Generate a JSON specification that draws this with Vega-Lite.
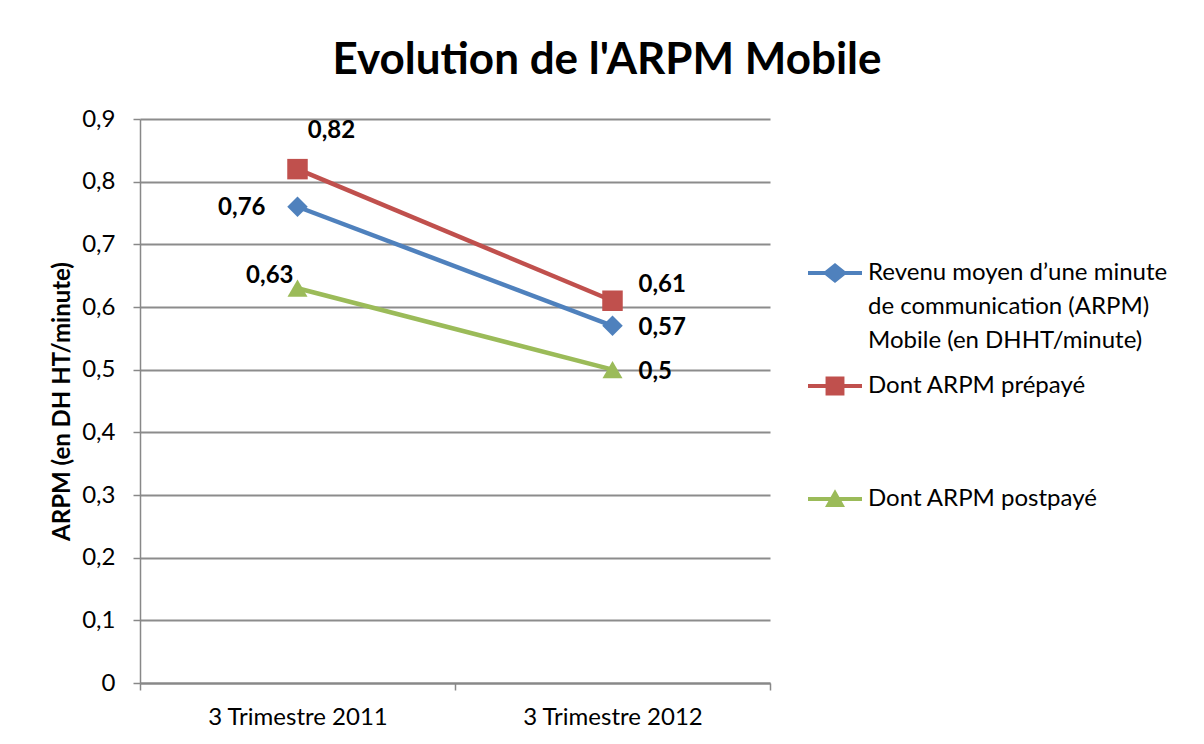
{
  "$schema": "https://vega.github.io/schema/vega-lite/v6.json",
  "width": 630,
  "height": 564,
  "autosize": {"type": "none"},
  "padding": {"left": 140, "top": 119, "right": 434, "bottom": 61},
  "background": "white",
  "title": {
    "text": "Evolution de l'ARPM Mobile",
    "font": "Lato",
    "fontSize": 44,
    "fontWeight": "bold",
    "color": "black",
    "anchor": "middle",
    "dx": 152,
    "offset": 24
  },
  "data": {
    "values": [
      {"period": "3 Trimestre 2011", "series": "Revenu moyen d’une minute de communication (ARPM) Mobile (en DHHT/minute)", "value": 0.76},
      {"period": "3 Trimestre 2012", "series": "Revenu moyen d’une minute de communication (ARPM) Mobile (en DHHT/minute)", "value": 0.57},
      {"period": "3 Trimestre 2011", "series": "Dont ARPM prépayé", "value": 0.82},
      {"period": "3 Trimestre 2012", "series": "Dont ARPM prépayé", "value": 0.61},
      {"period": "3 Trimestre 2011", "series": "Dont ARPM postpayé", "value": 0.63},
      {"period": "3 Trimestre 2012", "series": "Dont ARPM postpayé", "value": 0.5}
    ]
  },
  "encoding": {
    "x": {
      "field": "period",
      "type": "nominal",
      "scale": {"type": "band", "paddingInner": 0, "paddingOuter": 0},
      "title": null,
      "axis": {
        "labelAngle": 0,
        "labelFontSize": 24,
        "labelColor": "black",
        "labelPadding": 15,
        "labelLimit": 300,
        "tickSize": 7,
        "tickBand": "extent",
        "tickColor": "#888888",
        "tickWidth": 1.5,
        "domainColor": "#888888",
        "domainWidth": 2,
        "grid": false
      }
    },
    "y": {
      "field": "value",
      "type": "quantitative",
      "scale": {"domain": [0, 0.9], "nice": false},
      "title": "ARPM (en DH HT/minute)",
      "axis": {
        "values": [0, 0.1, 0.2, 0.3, 0.4, 0.5, 0.6, 0.7, 0.8, 0.9],
        "format": "~g",
        "labelFontSize": 24,
        "labelColor": "black",
        "labelPadding": 18,
        "tickSize": 7,
        "tickColor": "#888888",
        "tickWidth": 1.5,
        "domainColor": "#888888",
        "domainWidth": 1.5,
        "grid": true,
        "gridColor": "#8c8c8c",
        "gridWidth": 2,
        "titleFontSize": 24,
        "titleFontWeight": "bold",
        "titleColor": "black",
        "titlePadding": 7
      }
    },
    "color": {
      "field": "series",
      "type": "nominal",
      "scale": {
        "domain": [
          "Revenu moyen d’une minute de communication (ARPM) Mobile (en DHHT/minute)",
          "Dont ARPM prépayé",
          "Dont ARPM postpayé"
        ],
        "range": ["#4F81BD", "#C0504D", "#9BBB59"]
      },
      "legend": {
        "title": null,
        "orient": "none",
        "legendX": 668,
        "legendY": 127,
        "padding": 0,
        "columns": 1,
        "gridAlign": "all",
        "rowPadding": 6,
        "symbolSize": 2916,
        "symbolStrokeWidth": 0,
        "symbolOpacity": 1,
        "labelFontSize": 24,
        "labelColor": "black",
        "labelLimit": 400,
        "labelOffset": 6,
        "labelBaseline": "middle",
        "labelExpr": "datum.index === 0 ? ['Revenu moyen d’une minute', 'de communication (ARPM)', 'Mobile (en DHHT/minute)'] : datum.label",
        "encoding": {
          "symbols": {
            "shape": {"value": {"expr": "datum.index === 0 ? 'M-1,-0.074H-0.37L0,-0.37L0.37,-0.074H1V0.074H0.37L0,0.37L-0.37,0.074H-1Z' : datum.index === 1 ? 'M-1,-0.074H-0.35V-0.35H0.35V-0.074H1V0.074H0.35V0.35H-0.35V0.074H-1Z' : 'M-1,-0.074H1V0.074H-1Z M0,-0.36L0.37,0.3H-0.37Z'"}},
            "fill": {"value": {"expr": "scale('color', datum.value)"}}
          },
          "labels": {
            "lineHeight": {"value": 34}
          }
        }
      }
    }
  },
  "layer": [
    {
      "mark": {"type": "line", "strokeWidth": 4.5}
    },
    {
      "transform": [{"filter": "datum.series === 'Revenu moyen d’une minute de communication (ARPM) Mobile (en DHHT/minute)'"}],
      "mark": {"type": "point", "filled": true, "opacity": 1, "size": 420, "shape": "diamond"}
    },
    {
      "transform": [{"filter": "datum.series === 'Dont ARPM prépayé'"}],
      "mark": {"type": "point", "filled": true, "opacity": 1, "size": 420, "shape": "square"}
    },
    {
      "transform": [{"filter": "datum.series === 'Dont ARPM postpayé'"}],
      "mark": {"type": "point", "filled": true, "opacity": 1, "size": 400, "shape": "triangle-up"}
    },
    {
      "transform": [{"filter": "datum.series === 'Dont ARPM prépayé' && datum.period === '3 Trimestre 2011'"}],
      "mark": {"type": "text", "fontSize": 24, "fontWeight": "bold", "color": "black", "align": "center", "baseline": "middle", "dx": 34, "dy": -38},
      "encoding": {"text": {"field": "value", "type": "quantitative", "format": "~g"}, "color": {"value": "black"}}
    },
    {
      "transform": [{"filter": "datum.series === 'Revenu moyen d’une minute de communication (ARPM) Mobile (en DHHT/minute)' && datum.period === '3 Trimestre 2011'"}],
      "mark": {"type": "text", "fontSize": 24, "fontWeight": "bold", "color": "black", "align": "right", "baseline": "middle", "dx": -32, "dy": 1},
      "encoding": {"text": {"field": "value", "type": "quantitative", "format": "~g"}, "color": {"value": "black"}}
    },
    {
      "transform": [{"filter": "datum.series === 'Dont ARPM postpayé' && datum.period === '3 Trimestre 2011'"}],
      "mark": {"type": "text", "fontSize": 24, "fontWeight": "bold", "color": "black", "align": "right", "baseline": "middle", "dx": -4, "dy": -12},
      "encoding": {"text": {"field": "value", "type": "quantitative", "format": "~g"}, "color": {"value": "black"}}
    },
    {
      "transform": [{"filter": "datum.series !== 'Dont ARPM prépayé' && datum.period === '3 Trimestre 2012'"}],
      "mark": {"type": "text", "fontSize": 24, "fontWeight": "bold", "color": "black", "align": "left", "baseline": "middle", "dx": 26, "dy": 2},
      "encoding": {"text": {"field": "value", "type": "quantitative", "format": "~g"}, "color": {"value": "black"}}
    },
    {
      "transform": [{"filter": "datum.series === 'Dont ARPM prépayé' && datum.period === '3 Trimestre 2012'"}],
      "mark": {"type": "text", "fontSize": 24, "fontWeight": "bold", "color": "black", "align": "left", "baseline": "middle", "dx": 26, "dy": -16},
      "encoding": {"text": {"field": "value", "type": "quantitative", "format": "~g"}, "color": {"value": "black"}}
    }
  ],
  "config": {
    "font": "Lato",
    "locale": {
      "number": {"decimal": ",", "thousands": " ", "grouping": [3], "currency": ["", " €"]}
    },
    "view": {"stroke": null}
  }
}
